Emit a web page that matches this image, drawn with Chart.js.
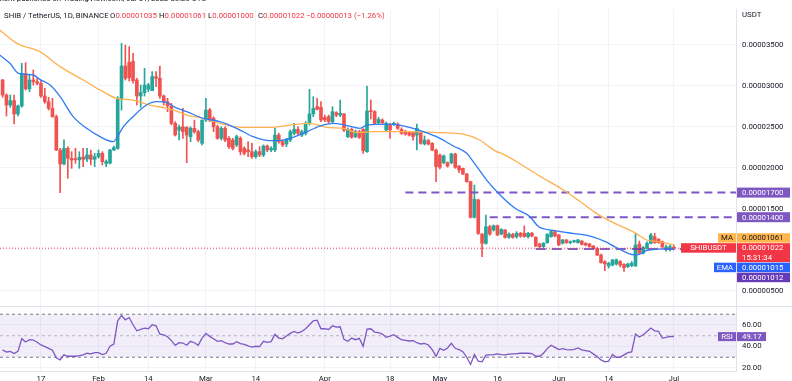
<!DOCTYPE html>
<html>
<head>
<meta charset="utf-8">
<title>SHIB / TetherUS 1D</title>
<script src="https://cdn.jsdelivr.net/npm/chart.js@4.4.1/dist/chart.umd.min.js"></script>
<style>
  html, body { margin: 0; padding: 0; background: #fff; }
  body { width: 792px; height: 381px; overflow: hidden; position: relative;
         font-family: Roboto, 'Liberation Sans', sans-serif; font-size: 7.8px; color: #131722; }
  canvas { position: absolute; left: 0; }
  #priceChart { top: 0; }
  #rsiChart { top: 306px; }
  #sep { position: absolute; left: 0; top: 306px; width: 792px; height: 1px; background: #e0e3eb; }
  .txt { position: absolute; white-space: nowrap; line-height: 10px; }
  .dn { color: #f23645; }
</style>
</head>
<body>
<canvas id="priceChart" width="792" height="306"></canvas>
<canvas id="rsiChart" width="792" height="75"></canvas>
<div id="sep"></div>
<div class="txt" style="left:-3px;top:-6px">ment published on TradingView.com, Jul 01, 2022 08:28 UTC</div>
<div class="txt" style="left:4px;top:11px">SHIB / TetherUS, 1D, BINANCE</div>
<div class="txt" style="left:110px;top:11px">O<span class="dn">0.00001035</span></div>
<div class="txt" style="left:159px;top:11px">H<span class="dn">0.00001061</span></div>
<div class="txt" style="left:208px;top:11px">L<span class="dn">0.00001000</span></div>
<div class="txt" style="left:258px;top:11px">C<span class="dn">0.00001022</span></div>
<div class="txt dn" style="left:306px;top:11px">−0.00000013 (−1.26%)</div>

<script>
// prices in units of 0.00000001 USDT, one daily candle per entry
const startDay = 6; // day index counted from Jan 1 2022 (= 0), so first candle is Jan 7
const opens = [
  3073,2890,2768,2821,2659,2756,3150,2965,3073,3053,
  3033,2878,2809,2728,2626,2220,2049,2240,2118,2110,
  2100,2135,2110,2159,2106,2138,2179,2055,2060,2220,
  2240,2842,3244,3290,3300,3073,2878,2919,2960,2943,
  3114,3094,2878,2809,2756,2545,2463,2504,2496,2382,
  2484,2443,2301,2585,2707,2606,2504,2362,2484,2362,
  2341,2281,2362,2240,2220,2199,2138,2199,2159,2268,
  2220,2220,2402,2321,2293,2341,2423,2472,2402,2423,
  2545,2659,2748,2740,2618,2626,2565,2675,2646,2659,
  2382,2471,2382,2443,2471,2199,2695,2687,2553,2585,
  2463,2524,2530,2536,2471,2443,2431,2431,2402,2431,
  2293,2333,2301,2219,2158,2065,2065,2065,2171,2024,
  1996,1927,1833,1398,1610,1195,1081,1284,1244,1297,
  1195,1244,1155,1190,1163,1204,1204,1163,1204,1155,
  1073,1041,1090,1163,1224,1183,1082,1122,1090,1102,
  1090,1110,1082,1073,1049,1021,939,858,805,817,
  830,860,825,797,810,805,1073,960,1025,1082,
  1163,1130,1102,1025,1030,1035
];
const highs = [
  3081,2903,2890,2890,2768,3277,3285,3134,3195,3094,
  3073,2972,2862,2850,2646,2240,2342,2260,2199,2240,
  2199,2240,2240,2220,2179,2220,2199,2098,2228,2268,
  2870,3520,3500,3480,3398,3094,3012,3216,3033,3175,
  3175,3244,2890,2850,2789,2565,2524,2728,2504,2504,
  2585,2463,2585,2850,2728,2626,2524,2504,2504,2382,
  2362,2402,2382,2260,2321,2301,2220,2260,2281,2281,
  2260,2484,2423,2341,2362,2463,2545,2504,2463,2565,
  2959,2870,2850,2809,2646,2646,2748,2687,2829,2667,
  2490,2490,2463,2460,2480,3000,2829,2700,2618,2600,
  2560,2545,2560,2550,2490,2460,2445,2440,2536,2445,
  2390,2350,2310,2230,2170,2160,2075,2180,2180,2030,
  2000,1935,1840,1793,1620,1200,1427,1300,1305,1305,
  1260,1250,1210,1204,1224,1215,1293,1215,1215,1163,
  1082,1090,1200,1240,1230,1190,1130,1130,1110,1120,
  1130,1115,1090,1082,1055,1030,950,870,850,885,
  890,870,835,840,860,1204,1110,1045,1100,1204,
  1204,1140,1110,1060,1060,1061
];
const lows = [
  2862,2634,2740,2537,2634,2740,2950,2931,3012,3012,
  2862,2789,2707,2618,2212,1699,2037,1874,1996,2057,
  1996,2016,2077,2037,2016,2118,2037,2016,2049,2212,
  2228,2707,3073,3060,3033,2768,2740,2878,2931,2943,
  2992,2850,2768,2687,2525,2390,2341,2362,2065,2321,
  2423,2321,2281,2565,2565,2443,2350,2341,2321,2240,
  2220,2260,2159,2159,2138,2118,2118,2138,2138,2199,
  2199,2199,2301,2260,2260,2321,2402,2402,2382,2402,
  2524,2626,2707,2565,2565,2545,2545,2626,2626,2443,
  2370,2362,2370,2360,2179,2190,2600,2530,2540,2540,
  2450,2362,2520,2470,2410,2400,2390,2340,2219,2290,
  2280,2280,2210,1833,1990,2050,2010,2050,1996,1943,
  1920,1825,1390,1390,1190,919,1070,1180,1230,1175,
  1185,1145,1140,1143,1143,1155,1155,1143,1160,1041,
  1025,1030,1082,1155,1160,1055,1073,1080,1075,1090,
  1082,1060,1050,1035,1010,930,840,748,780,805,
  815,795,740,785,795,800,950,950,1010,1075,
  1080,1080,1020,985,990,1000
];
const closes = [
  2890,2768,2821,2659,2756,3155,2965,3073,3053,3033,
  2878,2809,2728,2626,2220,2049,2240,2118,2098,2100,
  2130,2106,2159,2106,2138,2179,2077,2077,2220,2248,
  2850,3244,3094,3100,3065,2878,2919,3012,3012,3114,
  3094,2878,2809,2756,2545,2403,2496,2443,2402,2484,
  2443,2341,2585,2707,2585,2504,2362,2484,2341,2260,
  2240,2382,2199,2179,2199,2138,2199,2159,2268,2220,
  2240,2402,2321,2281,2350,2443,2472,2423,2443,2545,
  2659,2728,2716,2585,2585,2565,2687,2646,2667,2463,
  2471,2374,2443,2374,2211,2695,2687,2545,2593,2553,
  2545,2463,2545,2484,2423,2414,2402,2382,2484,2301,
  2341,2293,2219,2016,2008,2146,2024,2171,2008,1975,
  1927,1833,1398,1618,1203,1081,1284,1195,1297,1183,
  1252,1154,1195,1155,1204,1171,1163,1204,1171,1049,
  1041,1082,1191,1224,1171,1061,1122,1090,1098,1110,
  1122,1069,1061,1041,1021,939,846,830,838,878,
  880,817,785,830,838,1061,960,1029,1082,1183,
  1090,1090,1041,1035,1035,1022
];
const rsiValues = [
  36.8,34.9,35.5,33.4,35.5,47.2,44.2,46.3,46.0,43.9,
  41.4,39.9,38.3,36.5,29.4,27.5,32.2,30.9,30.9,30.9,
  31.5,32.2,33.7,33.1,34.3,34.3,32.5,33.7,40.2,42.3,
  63.8,68.8,64.8,66.9,60.2,54.6,55.8,57.1,56.5,60.2,
  59.2,51.5,50.9,49.1,45.4,41.1,43.5,43.2,41.1,44.8,
  43.5,41.1,47.8,52.2,49.4,47.2,44.8,45.4,43.5,42.3,
  42.3,44.5,42.6,42.0,40.5,39.5,40.2,39.9,44.8,43.9,
  44.5,51.2,47.8,47.2,49.7,52.2,54.0,52.5,54.0,56.5,
  60.2,63.8,64.5,56.5,56.5,55.8,59.2,58.0,58.3,46.6,
  44.8,47.8,46.3,47.5,40.2,56.2,56.5,53.4,52.8,51.5,
  48.5,49.7,50.9,48.5,46.3,45.7,45.1,45.4,43.5,42.3,
  42.9,41.4,37.1,30.9,38.3,36.5,38.6,42.9,38.3,37.1,
  35.2,30.0,23.2,32.5,26.3,25.7,31.9,32.2,32.5,33.1,
  32.5,32.2,32.8,33.1,33.4,33.7,33.7,33.7,33.4,30.9,
  30.9,33.7,38.0,41.1,39.2,37.1,38.0,37.1,36.8,37.4,
  38.6,36.8,36.2,35.5,33.1,30.6,27.5,25.7,26.3,32.5,
  30.0,30.0,32.2,34.3,34.9,51.5,48.8,50.9,54.0,57.1,
  54.6,54.0,47.8,48.5,49.4,49.17
];

// moving average (orange) and EMA (blue)
const maDays = [5, 9.7, 15.7, 21, 27, 31.4, 35.7, 40, 44.4, 48.8, 51, 54, 58.3, 62.6, 68.7, 75.7, 80.9, 86, 90.4, 95.2,
  98.3, 102.6, 111.3, 120, 126, 130.4, 132.2, 134.8, 136.5, 139.6, 146.1, 152.2, 156, 160.8, 165.6, 170.8, 173.9, 177, 181];
const maValues = [3691, 3520, 3419, 3236, 3073, 2951, 2850, 2829, 2768, 2728, 2700, 2646, 2606, 2545, 2496, 2496, 2524, 2545, 2496, 2480,
  2431, 2443, 2443, 2431, 2414, 2341, 2281, 2200, 2170, 2089, 1900, 1732, 1610, 1447, 1325, 1212, 1122, 1102, 1061];
const emaDays = [5, 7.9, 10.1, 14, 15.7, 18.4, 21, 24.4, 27.9, 31.4, 34.9, 35.7, 37.5, 40, 43.5, 46.2, 48.8, 51, 54, 58.3,
  62.6, 67, 71.3, 75.7, 79.1, 84.4, 88.7, 92.2, 95.2, 99.2, 101, 107, 111.3, 115.7, 120, 123.5, 127, 128.7, 132.2, 135.7,
  139.6, 143.5, 145.6, 150, 155, 158.7, 163, 166, 170, 171.5, 174, 177, 181];
const emaValues = [3386, 3277, 3155, 3134, 3081, 3012, 2870, 2626, 2484, 2382, 2321, 2362, 2504, 2626, 2768, 2809, 2797, 2740, 2687, 2606,
  2565, 2484, 2382, 2333, 2341, 2423, 2512, 2545, 2524, 2484, 2524, 2536, 2504, 2443, 2362, 2268, 2179, 2077, 1853, 1671,
  1508, 1406, 1290, 1235, 1200, 1175, 1105, 1030, 945, 940, 995, 1010, 1015];

// horizontal levels drawn on the chart and the day they start at
const levelValues = [1700, 1400, 1012];
const levelStarts = [111, 133, 145];
const lastClose = 1022, lastMA = 1061, lastEMA = 1015, lastRSI = 49.17;

const tickDays = [16, 31, 44, 59, 72, 90, 107, 120, 135, 151, 164, 181];
const tickLabels = ['17', 'Feb', '14', 'Mar', '14', 'Apr', '18', 'May', '16', 'Jun', '14', 'Jul'];
const priceTicks = [500, 1000, 1500, 2000, 2500, 3000, 3500];
const rsiTicks = [20, 40, 60];
const rsiBands = [70, 50, 30];

const X_MIN = 5.32, X_MAX = 197.2;
const UP = '#26a69a', DOWN = '#ef5350';
const GRID = '#f0f3fa';
const fmt = v => (v * 1e-8).toFixed(8);

Chart.defaults.font.family = 'Roboto, "Liberation Sans", sans-serif';
Chart.defaults.font.size = 7.8;
Chart.defaults.color = '#131722';

const candleDays = opens.map((_, i) => startDay + i);
const candleColors = opens.map((o, i) => closes[i] >= o ? UP : DOWN);

function tag(ctx, x, y, w, h, bg, fg, lines, align) {
  ctx.fillStyle = bg;
  ctx.fillRect(x, y, w, h);
  ctx.fillStyle = fg;
  ctx.textBaseline = 'middle';
  ctx.textAlign = align || 'left';
  const tx = align === 'center' ? x + w / 2 : x + 5;
  lines.forEach((t, i) => ctx.fillText(t, tx, y + h / lines.length / 2 + i * (h / lines.length) + 0.5));
}

const priceTags = {
  id: 'priceTags',
  afterDraw(chart) {
    const { ctx, scales: { y } } = chart;
    ctx.save();
    ctx.font = '7.8px Roboto, "Liberation Sans", sans-serif';
    ctx.fillStyle = '#131722';
    ctx.textAlign = 'left';
    ctx.textBaseline = 'middle';
    ctx.fillText('USDT', 742, 15);
    const x0 = 737, w = 53;
    levelValues.slice(0, 2).forEach(v => {
      tag(ctx, x0, y.getPixelForValue(v) - 5, w, 10, '#7e57c2', '#fff', [fmt(v)]);
    });
    const redTop = y.getPixelForValue(lastClose) - 5;
    tag(ctx, x0, redTop - 10, w, 9.5, '#ffb74d', '#131722', [fmt(lastMA)]);
    tag(ctx, 718, redTop - 10, 18, 9.5, '#ffb74d', '#131722', ['MA'], 'center');
    tag(ctx, x0, redTop, w, 19, '#f23645', '#fff', [fmt(lastClose), '15:31:34']);
    tag(ctx, 681, redTop, 55, 9.5, '#f23645', '#fff', ['SHIBUSDT'], 'center');
    tag(ctx, x0, redTop + 19.5, w, 9.5, '#2962ff', '#fff', [fmt(lastEMA)]);
    tag(ctx, 714, redTop + 19.5, 22, 9.5, '#2962ff', '#fff', ['EMA'], 'center');
    tag(ctx, x0, redTop + 29.5, w, 9.5, '#673ab7', '#fff', [fmt(levelValues[2])]);
    ctx.restore();
  }
};

const rsiTags = {
  id: 'rsiTags',
  afterDraw(chart) {
    const { ctx, scales: { y } } = chart;
    ctx.save();
    ctx.font = '7.8px Roboto, "Liberation Sans", sans-serif';
    const cy = y.getPixelForValue(lastRSI);
    tag(ctx, 737, cy - 4.5, 29, 9, '#7e57c2', '#fff', [lastRSI.toFixed(2)]);
    tag(ctx, 718, cy - 4.5, 18, 9, '#7e57c2', '#fff', ['RSI'], 'center');
    ctx.restore();
  }
};

function xAxis(showLabels, height) {
  return {
    type: 'linear', min: X_MIN, max: X_MAX, offset: false,
    afterBuildTicks: s => { s.ticks = tickDays.map(v => ({ value: v })); },
    afterFit: s => { s.height = height; s.paddingLeft = 0; s.paddingRight = 0; },
    grid: { color: GRID, drawTicks: false, offset: false },
    border: { display: showLabels, color: '#e0e3eb' },
    ticks: { display: showLabels, autoSkip: false, maxRotation: 0, padding: 3,
             callback: (v, i) => tickLabels[i] }
  };
}

function yAxis(min, max, ticks, format) {
  return {
    type: 'linear', position: 'right', min: min, max: max,
    afterBuildTicks: s => { s.ticks = ticks.map(v => ({ value: v })); },
    afterFit: s => { s.width = 56; s.paddingTop = 0; s.paddingBottom = 0; },
    grid: { color: GRID, drawTicks: false },
    border: { display: true, color: '#e0e3eb' },
    ticks: { padding: 6, callback: format }
  };
}

const segment = (x0, v) => [{ x: x0, y: v }, { x: X_MAX, y: v }];

new Chart(document.getElementById('priceChart'), {
  type: 'bar',
  data: {
    datasets: [
      { type: 'line', data: emaDays.map((d, i) => ({ x: d, y: emaValues[i] })),
        borderColor: '#2f7bf5', borderWidth: 1.3, pointRadius: 0, cubicInterpolationMode: 'monotone' },
      { type: 'line', data: maDays.map((d, i) => ({ x: d, y: maValues[i] })),
        borderColor: '#ffb14e', borderWidth: 1.3, pointRadius: 0, cubicInterpolationMode: 'monotone' },
      { type: 'line', data: segment(X_MIN, lastClose),
        borderColor: '#f23645', borderWidth: 1, borderDash: [1, 2], pointRadius: 0 },
      { type: 'line', data: segment(levelStarts[0], levelValues[0]),
        borderColor: '#7e57c2', borderWidth: 2, borderDash: [8, 5], pointRadius: 0 },
      { type: 'line', data: segment(levelStarts[1], levelValues[1]),
        borderColor: '#7e57c2', borderWidth: 2, borderDash: [8, 5], pointRadius: 0 },
      { type: 'line', data: segment(levelStarts[2], levelValues[2]),
        borderColor: '#5e35b1', borderWidth: 1.5, borderDash: [10, 6], pointRadius: 0 },
      { data: candleDays.map((d, i) => ({ x: d, y: [opens[i], closes[i]] })),
        backgroundColor: candleColors, barThickness: 3, minBarLength: 1, grouped: false },
      { data: candleDays.map((d, i) => ({ x: d, y: [lows[i], highs[i]] })),
        backgroundColor: candleColors, barThickness: 1, grouped: false }
    ]
  },
  options: {
    responsive: false,
    animation: false,
    layout: { padding: { top: 9, left: 0, right: 0, bottom: 0 } },
    plugins: { legend: { display: false }, tooltip: { enabled: false } },
    scales: {
      x: xAxis(false, 0),
      y: yAxis(317, 3939, priceTicks, v => fmt(v))
    }
  },
  plugins: [priceTags]
});

new Chart(document.getElementById('rsiChart'), {
  type: 'line',
  data: {
    datasets: [
      { data: candleDays.map((d, i) => ({ x: d, y: rsiValues[i] })),
        borderColor: '#7e57c2', borderWidth: 1.3, pointRadius: 0 },
      { data: segment(X_MIN, rsiBands[0]), borderColor: '#787b86', borderWidth: 1, borderDash: [3, 3],
        pointRadius: 0, fill: '+2', backgroundColor: 'rgba(126, 87, 194, 0.1)' },
      { data: segment(X_MIN, rsiBands[1]), borderColor: 'rgba(120, 123, 134, 0.5)', borderWidth: 1,
        borderDash: [3, 3], pointRadius: 0 },
      { data: segment(X_MIN, rsiBands[2]), borderColor: '#787b86', borderWidth: 1, borderDash: [3, 3],
        pointRadius: 0 }
    ]
  },
  options: {
    responsive: false,
    animation: false,
    layout: { padding: { top: 1, left: 0, right: 0, bottom: 0 } },
    plugins: { legend: { display: false }, tooltip: { enabled: false } },
    scales: {
      x: xAxis(true, 10),
      y: yAxis(17.2, 76.7, rsiTicks, v => v.toFixed(2))
    }
  },
  plugins: [rsiTags]
});
</script>
</body>
</html>
